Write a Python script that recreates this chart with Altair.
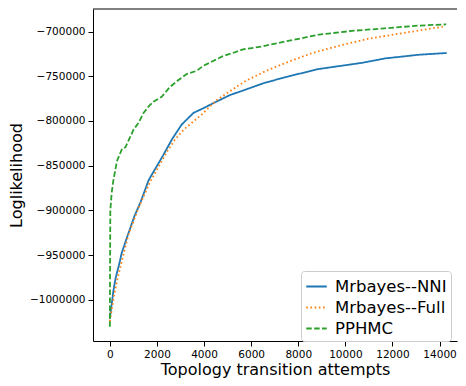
import altair as alt
import pandas as pd

series_names = ["Mrbayes--NNI", "Mrbayes--Full", "PPHMC"]
colors = ["#1f77b4", "#ff7f0e", "#2ca02c"]

nni_x = [0, 150, 250, 400, 500, 730, 1050, 1300, 1650, 2250, 2650, 2900, 3050,
         3550, 3950, 4400, 5100, 5650, 6500, 7450, 8850, 10700, 11700, 13100, 14300]
nni_y = [-1021000, -990000, -975000, -960000, -948000, -930000, -906000, -891000,
         -866000, -839000, -820000, -810000, -804000, -791000, -786000, -780000,
         -771000, -766000, -758000, -751000, -742000, -735000, -730000, -726000, -724000]

full_x = [0, 170, 310, 590, 800, 1220, 1710, 2410, 2760, 3120, 3890, 4520, 5080,
          5780, 6630, 7470, 8590, 9710, 10980, 12380, 14140]
full_y = [-1024000, -996000, -978000, -948000, -926000, -897000, -868000, -835000,
          -821000, -810000, -793000, -777000, -767000, -755000, -744000, -735000,
          -724000, -716000, -708000, -702000, -694500]

pphmc_x = [0, 10, 20, 80, 140, 300, 520, 660, 1010, 1220, 1430, 1640, 1850, 2200,
           2550, 2900, 3260, 3680, 3960, 4380, 4800, 5220, 5650, 6490, 7470, 8870,
           10280, 11680, 13080, 14280]
pphmc_y = [-1030000, -960000, -900000, -880000, -868000, -845000, -831000, -829500,
           -809500, -802000, -791000, -784000, -778500, -773000, -762000, -754500,
           -747500, -744000, -738500, -733000, -727500, -724000, -720000, -716500,
           -711000, -703500, -699300, -696400, -693400, -692000]

x_ticks = [0, 2000, 4000, 6000, 8000, 10000, 12000, 14000]
y_ticks = [-1000000, -950000, -900000, -850000, -800000, -750000, -700000]

rows = []
for name, xs, ys in zip(series_names, [nni_x, full_x, pphmc_x], [nni_y, full_y, pphmc_y]):
    for i, (a, b) in enumerate(zip(xs, ys)):
        rows.append({"series": name, "x": a, "y": b, "order": i})
df = pd.DataFrame(rows)

FONT = "DejaVu Sans"

lines = alt.Chart(df).mark_line(strokeWidth=1.8, clip=True).encode(
    x=alt.X("x:Q", scale=alt.Scale(domain=[-715, 14740], nice=False, zero=False),
            axis=alt.Axis(values=x_ticks, format="d", title="Topology transition attempts",
                          grid=False, tickSize=5, labelPadding=3, titlePadding=2,
                          domainColor="#000000", tickColor="#000000",
                          labelColor="#000000", titleColor="#000000",
                          labelFontSize=10.5, titleFontSize=16,
                          labelFont=FONT, titleFont=FONT, titleFontWeight="normal")),
    y=alt.Y("y:Q", scale=alt.Scale(domain=[-1046000, -674800], nice=False, zero=False),
            axis=alt.Axis(values=y_ticks, format="d", title="Loglikelihood",
                          grid=False, tickSize=5, labelPadding=3, titlePadding=5,
                          domainColor="#000000", tickColor="#000000",
                          labelColor="#000000", titleColor="#000000",
                          labelFontSize=10.5, titleFontSize=16,
                          labelFont=FONT, titleFont=FONT, titleFontWeight="normal")),
    color=alt.Color("series:N", scale=alt.Scale(domain=series_names, range=colors),
                    legend=alt.Legend(title=None, orient="none", legendX=208, legendY=262,
                                      symbolType="stroke", symbolSize=420, symbolStrokeWidth=1.8,
                                      labelFontSize=16.5, labelFont=FONT, labelColor="#000000",
                                      fillColor="#ffffff", strokeColor="#cccccc",
                                      cornerRadius=3, padding=4, rowPadding=1,
                                      labelOffset=7)),
    strokeDash=alt.StrokeDash("series:N",
                              scale=alt.Scale(domain=series_names,
                                              range=[[1, 0], [1.6, 2.6], [5.5, 2.4]]),
                              legend=None),
    order="order:Q",
)

frame_df = pd.DataFrame({"k": [0]})
top_rule = alt.Chart(frame_df).mark_rule(color="#000000", strokeWidth=1).encode(
    x=alt.value(0), x2=alt.value("width"), y=alt.value(0)
)

chart = alt.layer(lines, top_rule).properties(
    width=450, height=370,
    autosize=alt.AutoSizeParams(type="fit", contains="padding"),
    padding={"left": 0, "top": 0, "right": 0, "bottom": 0},
).configure_view(stroke=None).configure_axis(domainWidth=1)

chart.save("out.html", embed_options={"renderer": "svg", "actions": False})
